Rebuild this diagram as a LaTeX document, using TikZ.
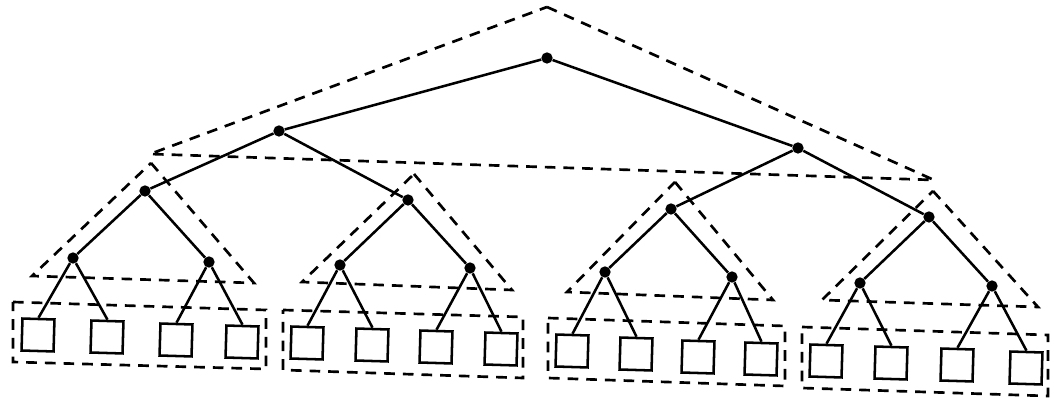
\documentclass[tikz,border=0pt]{standalone}
\begin{document}
\begin{tikzpicture}[x=0.75pt,y=-0.75pt,
  dot/.style={circle,fill=black,inner sep=0pt,minimum size=8.5pt},
  leaf/.style={draw,line width=1.9pt,minimum size=24pt,inner sep=0pt,rotate=-1.7},
  edge/.style={line width=1.9pt},
  dsh/.style={line width=2pt,dash pattern=on 8pt off 6pt,line join=miter}]
\useasboundingbox (0,0) rectangle (1054,398);
% internal nodes
\node[dot] (r) at (547,58) {};
\node[dot] (a) at (279,131) {};
\node[dot] (b) at (798,148) {};
\node[dot] (a1) at (145,191) {};
\node[dot] (a2) at (408,200) {};
\node[dot] (b1) at (671,209) {};
\node[dot] (b2) at (929,217) {};
\node[dot] (c1) at (73,258) {};
\node[dot] (c2) at (209,262) {};
\node[dot] (c3) at (340,265) {};
\node[dot] (c4) at (470,268) {};
\node[dot] (c5) at (605,272) {};
\node[dot] (c6) at (732,277) {};
\node[dot] (c7) at (860,283) {};
\node[dot] (c8) at (992,286) {};
% leaves
\node[leaf] (l1) at (38,335) {};
\node[leaf] (l2) at (107,337) {};
\node[leaf] (l3) at (176,340) {};
\node[leaf] (l4) at (242,342) {};
\node[leaf] (l5) at (307,343) {};
\node[leaf] (l6) at (372,345) {};
\node[leaf] (l7) at (436,347) {};
\node[leaf] (l8) at (501,349) {};
\node[leaf] (l9) at (572,351) {};
\node[leaf] (l10) at (636,354) {};
\node[leaf] (l11) at (698,357) {};
\node[leaf] (l12) at (761,359) {};
\node[leaf] (l13) at (826,361) {};
\node[leaf] (l14) at (891,363) {};
\node[leaf] (l15) at (957,365) {};
\node[leaf] (l16) at (1026,368) {};
% edges
\draw[edge] (r) -- (a);
\draw[edge] (r) -- (b);
\draw[edge] (a) -- (a1);
\draw[edge] (a) -- (a2);
\draw[edge] (b) -- (b1);
\draw[edge] (b) -- (b2);
\draw[edge] (a1) -- (c1);
\draw[edge] (a1) -- (c2);
\draw[edge] (a2) -- (c3);
\draw[edge] (a2) -- (c4);
\draw[edge] (b1) -- (c5);
\draw[edge] (b1) -- (c6);
\draw[edge] (b2) -- (c7);
\draw[edge] (b2) -- (c8);
\draw[edge] (c1) -- (l1.north);
\draw[edge] (c1) -- (l2.north);
\draw[edge] (c2) -- (l3.north);
\draw[edge] (c2) -- (l4.north);
\draw[edge] (c3) -- (l5.north);
\draw[edge] (c3) -- (l6.north);
\draw[edge] (c4) -- (l7.north);
\draw[edge] (c4) -- (l8.north);
\draw[edge] (c5) -- (l9.north);
\draw[edge] (c5) -- (l10.north);
\draw[edge] (c6) -- (l11.north);
\draw[edge] (c6) -- (l12.north);
\draw[edge] (c7) -- (l13.north);
\draw[edge] (c7) -- (l14.north);
\draw[edge] (c8) -- (l15.north);
\draw[edge] (c8) -- (l16.north);
% dashed triangles
\draw[dsh] (547,7) -- (934,180) -- (150,154) -- cycle;
\draw[dsh] (151,163) -- (254,283) -- (32,276) -- cycle;
\draw[dsh] (414,174) -- (512,290) -- (302,282) -- cycle;
\draw[dsh] (675,182) -- (773,300) -- (567,292) -- cycle;
\draw[dsh] (933,191) -- (1038,307) -- (822,300) -- cycle;
% dashed leaf boxes
\draw[dsh] (13,302) -- (266,310) -- (266,369) -- (13,362) -- cycle;
\draw[dsh] (283,310) -- (523,317) -- (523,378) -- (283,370) -- cycle;
\draw[dsh] (548,318) -- (785,326) -- (785,386) -- (548,378) -- cycle;
\draw[dsh] (802,327) -- (1048,335) -- (1048,396) -- (802,388) -- cycle;
\end{tikzpicture}
\end{document}
